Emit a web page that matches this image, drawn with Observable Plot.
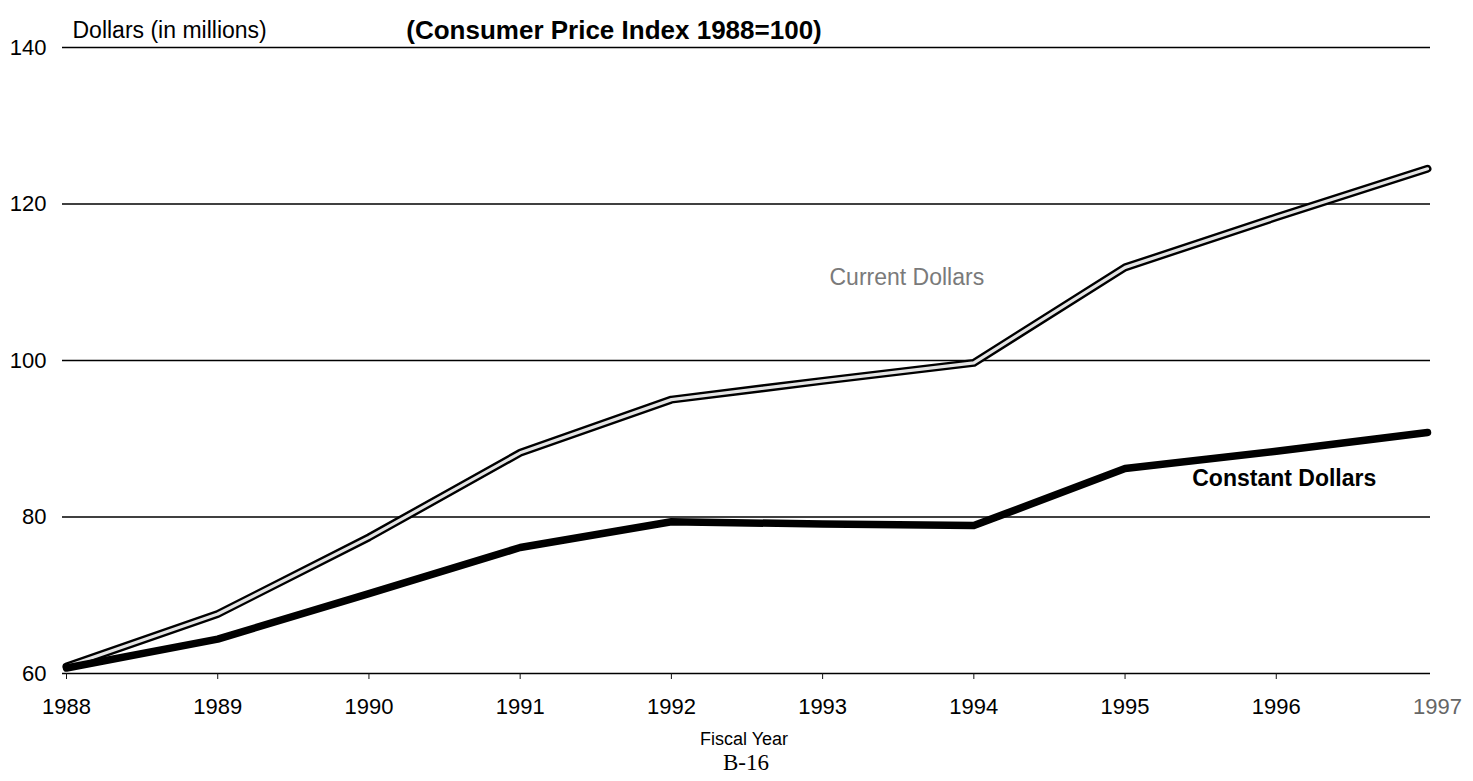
<!DOCTYPE html>
<html>
<head>
<meta charset="utf-8">
<script src="https://cdn.jsdelivr.net/npm/d3@7"></script>
<script src="https://cdn.jsdelivr.net/npm/@observablehq/plot@0.6"></script>
<style>
  html, body { margin: 0; padding: 0; background: #fff; }
  #chart svg { display: block; }
</style>
</head>
<body>
<div id="chart"></div>
<script>
const years = [1988, 1989, 1990, 1991, 1992, 1993, 1994, 1995, 1996, 1997];
const currentDollars = [60.9, 67.6, 77.4, 88.2, 95.0, 97.4, 99.7, 111.9, 118.3, 124.5];
const constantDollars = [60.7, 64.4, 70.2, 76.1, 79.4, 79.1, 78.9, 86.2, 88.4, 90.8];
const yTicks = [60, 80, 100, 120, 140];
const xTicks = [1988, 1989, 1990, 1991, 1992, 1993, 1994, 1995, 1996];
const lastTick = [1997];

const current = years.map((year, i) => ({year, value: currentDollars[i]}));
const constant = years.map((year, i) => ({year, value: constantDollars[i]}));

const font = "'Liberation Sans', Arial, Helvetica, sans-serif";

const chart = Plot.plot({
  width: 1473,
  height: 781,
  marginLeft: 66,
  marginRight: 46,
  marginTop: 47,
  marginBottom: 108,
  style: {fontFamily: font, fontSize: "22px", background: "#fff", color: "#000"},
  x: {domain: [1988, 1997]},
  y: {domain: [60, 140]},
  marks: [
    Plot.ruleY(yTicks, {stroke: "#000", strokeWidth: 1.3, insetLeft: -4, insetRight: -3}),
    Plot.axisY(yTicks, {tickSize: 0, tickPadding: 20, fontSize: 22, label: null, tickFormat: d => String(d)}),
    Plot.axisX(xTicks, {tickSize: 6, tickPadding: 19, fontSize: 22, label: null, tickFormat: d => String(d), stroke: "#111"}),
    Plot.axisX(lastTick, {tickSize: 0, tickPadding: 25, fontSize: 22, label: null, tickFormat: d => String(d), fill: "#666", fontWeight: 300, dx: 10}),
    // Current dollars: outlined (hollow) line
    Plot.line(current, {x: "year", y: "value", stroke: "#000", strokeWidth: 8, strokeLinejoin: "round", strokeLinecap: "round"}),
    Plot.line(current, {x: "year", y: "value", stroke: "#e4e4e4", strokeWidth: 3.2, strokeLinejoin: "round", strokeLinecap: "round"}),
    // Constant dollars: solid thick line
    Plot.line(constant, {x: "year", y: "value", stroke: "#000", strokeWidth: 7.5, strokeLinejoin: "round"}),
    // Series labels anchored to data points
    Plot.text(current.filter(d => d.year === 1994), {x: "year", y: "value", text: () => "Current Dollars", fill: "#7a7a7a", fontSize: 23, textAnchor: "middle", dx: -67, dy: -85}),
    Plot.text(constant.filter(d => d.year === 1996), {x: "year", y: "value", text: () => "Constant Dollars", fill: "#000", fontSize: 23, fontWeight: "bold", textAnchor: "middle", dx: 8, dy: 27}),
    // Header texts
    Plot.text(["Dollars (in millions)"], {text: d => d, frameAnchor: "top-left", textAnchor: "start", dx: 6, dy: -26, fontSize: 23}),
    Plot.text(["(Consumer Price Index 1988=100)"], {text: d => d, frameAnchor: "top", textAnchor: "middle", dx: -133, dy: -27, fontSize: 26, fontWeight: "bold"}),
    // Footer texts
    Plot.text(["Fiscal Year"], {text: d => d, frameAnchor: "bottom", dx: -3, dy: 71, fontSize: 18}),
    Plot.text(["B-16"], {text: d => d, frameAnchor: "bottom", dx: -1, dy: 96, fontSize: 23, letterSpacing: "2px", fontFamily: "'Liberation Serif', 'DejaVu Serif', serif"})
  ]
});
document.getElementById("chart").appendChild(chart);
</script>
</body>
</html>
